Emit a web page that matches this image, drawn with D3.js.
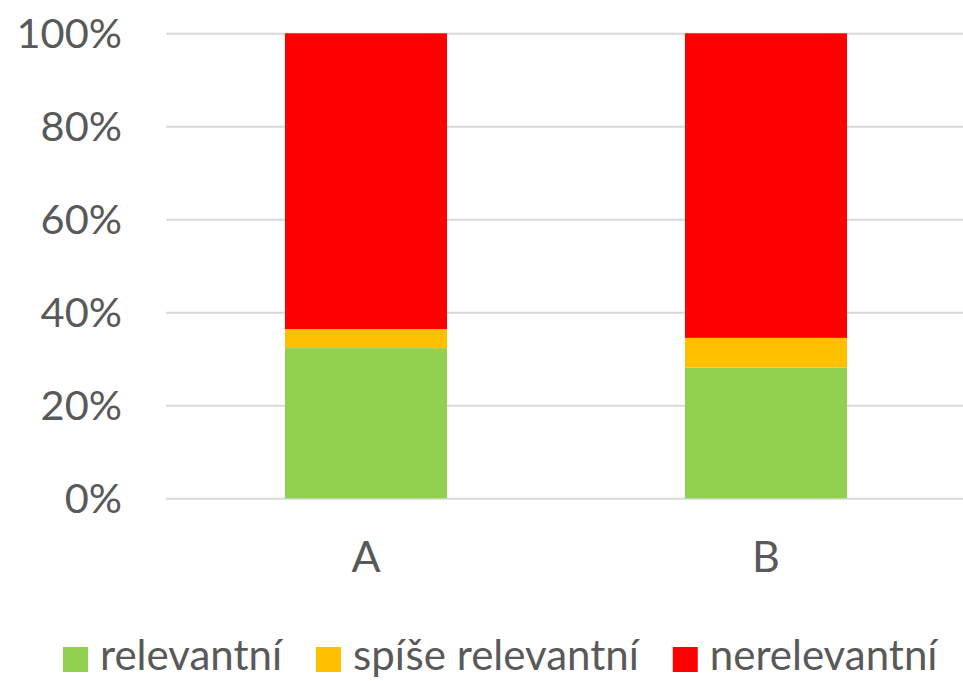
<!DOCTYPE html>
<html>
<head>
<meta charset="utf-8">
<script src="https://cdn.jsdelivr.net/npm/d3@7"></script>
<style>
  html, body { margin: 0; padding: 0; background: #fff; }
  svg { display: block; }
  text { font-family: Lato, "Open Sans", sans-serif; fill: #595959; }
</style>
</head>
<body>
<svg id="chart" width="963" height="681"></svg>
<script>
// ---- data ----
const categories = ["A", "B"];
const seriesNames = ["relevantní", "spíše relevantní", "nerelevantní"];
const relevantni = [32.3, 28.1];
const spiseRelevantni = [4.1, 6.4];
const nerelevantni = [63.6, 65.5];
const yTicks = [0, 20, 40, 60, 80, 100];
const colors = ["#92D050", "#FFC000", "#FF0000"];

const rows = categories.map((c, i) => ({
  cat: c,
  "relevantní": relevantni[i],
  "spíše relevantní": spiseRelevantni[i],
  "nerelevantní": nerelevantni[i]
}));
const stacked = d3.stack().keys(seriesNames)(rows);

const svg = d3.select("#chart");
const plot = { left: 166, right: 966, top: 33.3, bottom: 498.3 };

const x = d3.scaleBand().domain(categories).range([plot.left, plot.right])
  .paddingInner(0.595).paddingOuter(0.2975);
const y = d3.scaleLinear().domain([0, 100]).range([plot.bottom, plot.top]);

// gridlines + y labels
const yAxis = d3.axisLeft(y).tickValues(yTicks).tickSize(-(plot.right - plot.left))
  .tickFormat(d => d + "%").tickPadding(44);
const gy = svg.append("g").attr("transform", `translate(${plot.left},0)`).call(yAxis);
gy.select(".domain").remove();
gy.selectAll(".tick line").attr("stroke", "#D9D9D9").attr("stroke-width", 2);
gy.selectAll(".tick text").attr("font-size", 41.5).attr("fill", "#595959")
  .attr("dy", "0.34em").style("font-family", "Lato, sans-serif");

// bars
svg.append("g").selectAll("g").data(stacked).join("g")
  .attr("fill", (d, i) => colors[i])
  .selectAll("rect").data(d => d).join("rect")
  .attr("x", d => x(d.data.cat))
  .attr("width", x.bandwidth())
  .attr("y", d => y(d[1]))
  .attr("height", d => y(d[0]) - y(d[1]));

// x axis labels
const xAxis = d3.axisBottom(x).tickSize(0).tickPadding(0);
const gx = svg.append("g").attr("transform", `translate(0,${plot.bottom})`).call(xAxis);
gx.select(".domain").remove();
gx.selectAll(".tick text").attr("font-size", 43).attr("fill", "#595959")
  .attr("y", 74).attr("dy", 0).style("font-family", "Lato, sans-serif");

// legend
const legend = svg.append("g").attr("transform", "translate(63,670)");
let cx = 0;
seriesNames.forEach((name, i) => {
  legend.append("rect").attr("x", cx).attr("y", -23).attr("width", 25).attr("height", 25)
    .attr("fill", colors[i]);
  cx += 25 + 12;
  const t = legend.append("text").attr("x", cx).attr("y", 0).attr("font-size", 42)
    .text(name);
  cx += t.node().getComputedTextLength() + 34;
});
</script>
</body>
</html>
